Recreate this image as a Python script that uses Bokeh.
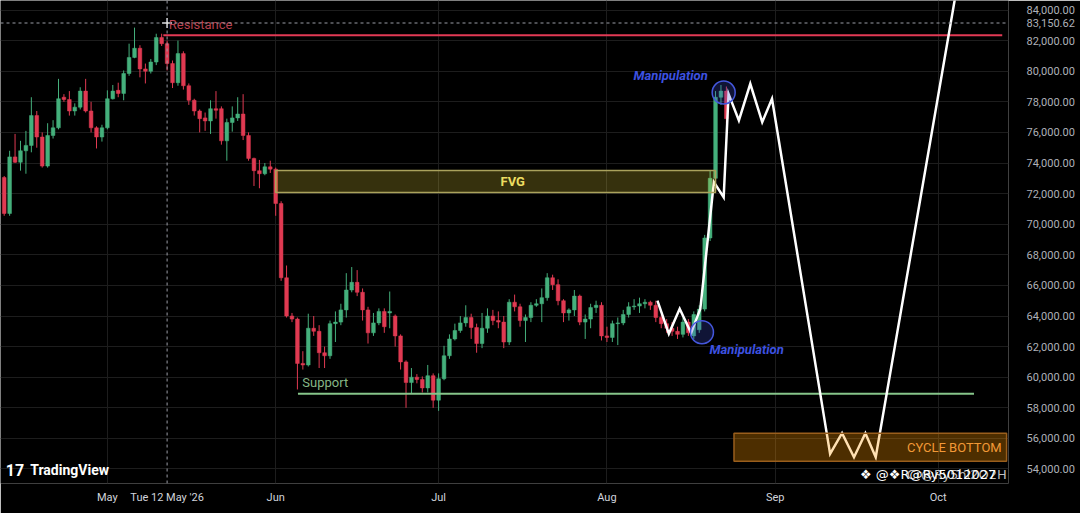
import pandas as pd
from bokeh.plotting import figure
from bokeh.models import (ColumnDataSource, Range1d, FixedTicker, NumeralTickFormatter,
                          Span, BoxAnnotation, DatetimeTickFormatter)
from bokeh.core.properties import value
from bokeh.embed import file_html
from bokeh.resources import INLINE

# ---------------- data ----------------
START = "2026-04-12"   # first daily candle

opens = [73050, 70700, 74400, 74050, 74800, 75150, 77100, 75700, 73800, 75800,
         76300, 78300, 78150, 77400, 77650, 78700, 77400, 76300, 75700, 76300,
         78200, 78750, 78550, 79850, 80900, 81500, 80150, 80000, 80600, 82200,
         81800, 80500, 79250, 81150, 79050, 78100, 77400, 76950, 76750, 77550,
         77550, 75450, 76650, 76950, 77200, 75800, 74300, 73500, 73300, 73750,
         73600, 71350, 66500, 64000, 63800, 60900, 60800, 63200, 63000, 61600,
         61400, 63500, 63600, 64400, 65700, 66200, 65550, 64400, 62900, 63550,
         64300, 64200, 64000, 62700, 61000, 59650, 60000, 59850, 59300, 60100,
         58500, 59900, 61400, 62500, 63050, 63550, 63900, 63250, 62200, 63200,
         64000, 63700, 63600, 62300, 64900, 64600, 63700, 63900, 64700, 64800,
         65200, 66500, 66050, 65000, 64200, 64400, 65300, 63600, 63800, 64550,
         64700, 62700, 62600, 63500, 63550, 64100, 64600, 64650, 64800, 64900,
         64700, 63900, 63500, 63200, 63000, 62800, 63600, 62700, 63100, 64450,
         69100, 73000, 78300, 78700]
highs = [73150, 74800, 75900, 75450, 76100, 78300, 77400, 76000, 76600, 76800,
         79500, 78500, 78700, 77900, 78950, 79500, 78000, 76400, 76500, 78750,
         79100, 79250, 80050, 81800, 82850, 81700, 80500, 80800, 82450, 82450,
         82000, 80700, 82000, 81300, 79200, 78200, 77500, 77300, 78100, 78700,
         77700, 76900, 77700, 78300, 78500, 76000, 74350, 74200, 74000, 74150,
         73700, 71500, 67300, 64200, 63900, 61700, 64150, 64000, 63400, 62000,
         63700, 64300, 64800, 66800, 67200, 67000, 65800, 64600, 64200, 64500,
         64500, 65600, 64100, 62800, 61100, 60600, 60200, 60050, 60800, 60250,
         60250, 62050, 62800, 63500, 64000, 64700, 64150, 63500, 64200, 64500,
         64400, 64300, 64000, 65100, 65400, 64800, 64100, 64900, 65100, 65800,
         66800, 66700, 66400, 65100, 64500, 65700, 65400, 64100, 64800, 65000,
         64900, 63300, 63700, 63900, 64400, 64900, 65100, 65200, 65100, 65000,
         65000, 64100, 63800, 63600, 63300, 63900, 63800, 64300, 64700, 69300,
         73500, 78700, 79100, 79000]
lows = [70550, 70550, 74000, 73500, 73300, 74700, 75000, 73700, 73700, 75600,
        76200, 78000, 77100, 77100, 77500, 77300, 76000, 74950, 75400, 76200,
        78150, 78300, 78100, 79700, 80850, 79600, 79200, 79850, 80400, 81650,
        80050, 78900, 79050, 78800, 77800, 77100, 76000, 76100, 75900, 76900,
        75200, 74150, 76050, 76750, 75500, 74150, 72500, 72350, 73200, 73350,
        70550, 66300, 63900, 63600, 59200, 60500, 60700, 62700, 60600, 60600,
        61200, 62300, 63400, 63900, 65550, 65300, 63700, 62200, 62700, 63400,
        62900, 63200, 62000, 60500, 58000, 58900, 59600, 59000, 59000, 58000,
        57800, 59800, 61200, 62400, 62900, 63300, 62500, 61600, 61900, 62900,
        63400, 63200, 61900, 62100, 64300, 63300, 62300, 63600, 64600, 63600,
        65000, 65700, 64700, 63600, 63700, 64000, 63400, 62500, 63200, 64200,
        62400, 62300, 62300, 62100, 63400, 63900, 64400, 64200, 64500, 64400,
        63600, 63200, 62900, 62700, 62500, 62600, 62700, 62500, 62900, 64300,
        68900, 72500, 77800, 76600]
closes = [70700, 74400, 74050, 74800, 75150, 77100, 75700, 73800, 75800, 76300,
          78200, 78150, 77400, 77650, 78700, 77400, 76300, 75700, 76300, 78200,
          78700, 78550, 79850, 80900, 81500, 80150, 80000, 80600, 82200, 81800,
          80500, 79250, 81150, 79050, 78100, 77400, 76900, 76750, 77550, 77450,
          75450, 76650, 76950, 77200, 75800, 74300, 73500, 73300, 73750, 73600,
          71350, 66500, 64000, 63800, 60900, 60800, 63200, 63000, 61600, 61400,
          63500, 63600, 64400, 65700, 66200, 65550, 64400, 62900, 63550, 64300,
          63300, 64300, 62700, 61000, 59650, 60000, 59850, 59300, 60100, 58500,
          59900, 61400, 62500, 63050, 63550, 63900, 63250, 62200, 63200, 64000,
          63700, 63600, 62300, 64900, 64600, 63700, 63900, 64700, 64800, 65200,
          66500, 66050, 65000, 64200, 64400, 65300, 63600, 63800, 64550, 64700,
          62700, 62600, 63500, 63550, 64100, 64600, 64650, 64800, 64900, 64700,
          63900, 63500, 63200, 63000, 62800, 63600, 62900, 64100, 64450, 69100,
          73000, 78300, 78700, 76900]

# projection path (day offset from START, price)
path_day = [120.3, 122.4, 124.4, 126.5, 128.2, 130.7, 132.5, 133.4, 135.3, 137.4,
            139.6, 141.4, 152.1, 154.3, 156.5, 158.6, 160.5, 175.7]
path_price = [65000, 62840, 64470, 62880, 64470, 72750, 71760, 78520, 76780, 79180,
              76670, 78200, 54990, 56340, 54770, 56340, 54770, 86000]

# manipulation circles
manip_day = [132.5, 128.5]
manip_price = [78610, 62940]

# levels / zones
resistance_level = 82350
resistance_days = [29.3, 183.8]
support_level = 58915
support_days = [54.1, 178.6]
fvg_days = [50.0, 131.0]
fvg_prices = [72070, 73510]
cycle_days = [134.4, 184.6]
cycle_prices = [54510, 56340]

price_ticks = list(range(54000, 86000, 2000))
month_ticks = ["2026-05-01", "2026-06-01", "2026-07-01", "2026-08-01", "2026-09-01", "2026-10-01"]
month_labels = ["May", "Jun", "Jul", "Aug", "Sep", "Oct"]
crosshair_date = "2026-05-12"
crosshair_date_text = "Tue 12 May '26"
crosshair_price = 83150.62

# ---------------- helpers ----------------
DAY_MS = 86_400_000
START_MS = pd.Timestamp(START).value / 1e6


def t(d):
    return START_MS + d * DAY_MS


def ms(s):
    return float(pd.Timestamp(s).value / 1e6)


UP = "#45b07c"
DOWN = "#e03a52"

n = len(opens)
src = ColumnDataSource(dict(
    x=[t(i) for i in range(n)],
    o=opens, h=highs, l=lows, c=closes,
    top=[max(o, c) for o, c in zip(opens, closes)],
    bot=[min(o, c) for o, c in zip(opens, closes)],
    col=[UP if c >= o else DOWN for o, c in zip(opens, closes)],
))

W, H = 1080, 513
RIGHT, BOTTOM = 72, 30
FW, FH = W - RIGHT, H - BOTTOM
PX_PER_DAY = 5.43
X0_DAY = -3.7 / PX_PER_DAY

p = figure(width=W, height=H, x_axis_type="datetime", y_axis_location="right",
           output_backend="svg", toolbar_location=None,
           min_border_left=0, min_border_top=0, min_border_right=RIGHT, min_border_bottom=BOTTOM,
           background_fill_color="#000000", border_fill_color="#000000",
           outline_line_color=None)
p.x_range = Range1d(t(X0_DAY), t(X0_DAY + FW / PX_PER_DAY))
p.y_range = Range1d(53052, 84622)

# y axis (with crosshair price as an extra labelled tick)
ya = p.yaxis[0]
ya.ticker = FixedTicker(ticks=price_ticks + [crosshair_price])
ya.formatter = NumeralTickFormatter(format="0,0.00")
ya.axis_line_color = None
ya.major_tick_line_color = None
ya.minor_tick_line_color = None
ya.major_label_text_color = "#aeb1b8"
ya.major_label_text_font_size = "11px"
ya.major_label_text_font = "Roboto"
ya.major_label_standoff = 12

# x axis: month ticks + crosshair date tick
month_ms = [ms(m) for m in month_ticks]
cross_ms = ms(crosshair_date)
xa = p.xaxis[0]
xa.ticker = FixedTicker(ticks=month_ms + [cross_ms])
overrides = {m: lab for m, lab in zip(month_ms, month_labels)}
overrides[cross_ms] = crosshair_date_text
xa.major_label_overrides = overrides
fmt = "%b"
xa.formatter = DatetimeTickFormatter(milliseconds=fmt, seconds=fmt, minsec=fmt, minutes=fmt,
                                     hourmin=fmt, hours=fmt, days=fmt, months=fmt, years=fmt)
xa.axis_line_color = None
xa.major_tick_line_color = None
xa.minor_tick_line_color = None
xa.major_label_text_color = "#d1d4dc"
xa.major_label_text_font_size = "11px"
xa.major_label_text_font = "Roboto"
xa.major_label_standoff = 1

p.xgrid.ticker = FixedTicker(ticks=month_ms)
p.ygrid.ticker = FixedTicker(ticks=price_ticks)
p.xgrid.grid_line_color = "#1d1d1d"
p.ygrid.grid_line_color = "#1d1d1d"

# zones
p.add_layout(BoxAnnotation(left=t(fvg_days[0]), right=t(fvg_days[1]),
                           bottom=fvg_prices[0], top=fvg_prices[1],
                           fill_color="#f5e13c", fill_alpha=0.22,
                           line_color="#aaa25c", line_width=1.5, line_alpha=1.0))
p.add_layout(BoxAnnotation(left=t(cycle_days[0]), right=t(cycle_days[1]),
                           bottom=cycle_prices[0], top=cycle_prices[1],
                           fill_color="#ff9800", fill_alpha=0.3,
                           line_color="#9a5e1c", line_width=1.5, line_alpha=1.0))

# crosshair
p.add_layout(Span(location=cross_ms, dimension="height", line_color="#9a9da6",
                  line_dash="3 3", line_width=1))
p.add_layout(Span(location=crosshair_price, dimension="width", line_color="#9a9da6",
                  line_dash="3 3", line_width=1))

# candles
p.segment(x0="x", x1="x", y0="l", y1="h", color="col", line_width=1, source=src)
p.vbar(x="x", width=0.68 * DAY_MS, top="top", bottom="bot", fill_color="col",
       line_color="col", line_width=0.5, source=src)

# levels
p.line([t(d) for d in resistance_days], [resistance_level] * 2, line_color="#e23a55", line_width=2)
p.line([t(d) for d in support_days], [support_level] * 2, line_color="#86c58a", line_width=2)

# projection
p.line([t(d) for d in path_day], path_price, line_color="#ffffff", line_width=2.5,
       line_join="miter")

# manipulation circles
p.scatter([t(d) for d in manip_day], manip_price, marker="circle", size=23,
          fill_color="#3f51d8", fill_alpha=0.25, line_color="#4457dd", line_width=1.5)

p.scatter([cross_ms], [crosshair_price], marker="cross", size=10,
          line_color="#e6e6e6", line_width=1.5)


def txt(x, y, s, color, size="13px", align="left", style="normal", font="Roboto", alpha=1.0):
    p.text(x=[x], y=[y], text=[s], text_color=color, text_font_size=size,
           text_align=align, text_baseline="middle", text_font_style=style,
           text_font=value(font), text_alpha=alpha)


txt(t(30.3), 83053, "Resistance", "#b8404f")
txt(t(54.9), 59654, "Support", "#86b686")
txt(t(91.4), 72790, "FVG", "#e9dc6c", style="bold")
txt(t(183.7), 55405, "CYCLE BOTTOM", "#ec9a4e", align="right")
txt(t(115.9), 79719, "Manipulation", "#3d52e0", style="bold italic")
txt(t(129.9), 61810, "Manipulation", "#3d52e0", style="bold italic")
txt(t(0.3), 53902, "17", "#ffffff", size="16px", style="bold")
txt(t(4.8), 53902, "TradingView", "#ffffff", size="14px", style="bold")

# watermark (kept inside the plot area)
txt(t(157.6), 53640, "❖ @❖R@Ry5012027", "#ffffff", size="13px", font="DejaVu Sans")
txt(t(166.2), 53640, "Cr@Ry5hl2O2H", "#ffffff", size="13px", font="DejaVu Sans", alpha=0.75)

open("out.html", "w").write(file_html(p, INLINE))
